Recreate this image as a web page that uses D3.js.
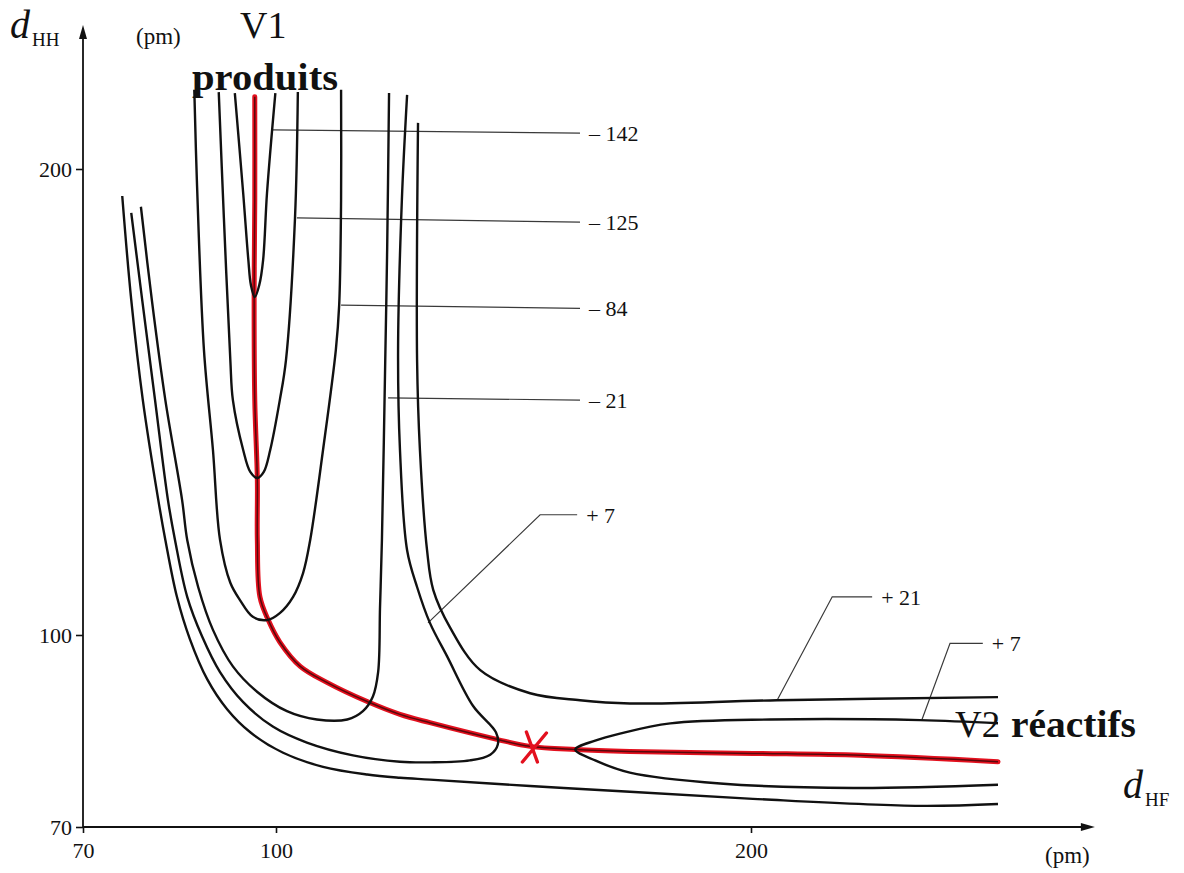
<!DOCTYPE html>
<html><head><meta charset="utf-8">
<script src="https://cdn.jsdelivr.net/npm/d3@7"></script>
<style>
body{margin:0;background:#fff}
svg{display:block}
text{font-family:"Liberation Serif","DejaVu Serif",serif;fill:#111}
</style>
</head><body>
<svg id="chart" width="1184" height="873"></svg>
<script>
// ---- data (pm) ----
const xTicks = [70, 100, 200];
const xTickLabels = ["70", "100", "200"];
const yTicks = [70, 100, 200];
const yTickLabels = ["70", "100", "200"];
const xAxisMax = 272.4, yAxisMax = 230.9;

// isoenergy contours (kJ/mol), points [dHF, dHH]
const cM142 = [[93.6,216.3],[94.9,194.8],[95.7,180.5],[96.1,175.1],[96.7,172.5],[97.4,175.1],[98.0,180.5],[98.6,194.8],[99.9,216.3]];
const cM125 = [[91.1,216.5],[91.9,189.5],[92.9,159.0],[93.3,150.4],[94.9,139.7],[96.0,135.0],[97.1,133.7],[98.1,135.0],[99.1,139.7],[100.8,150.4],[102.1,159.0],[104.0,189.5],[104.6,216.5]];
const cM84 = [[87.3,217.0],[87.7,197.6],[88.8,161.2],[90.2,139.7],[91.3,120.4],[92.9,111.2],[94.4,107.5],[96.4,103.9],[98.6,103.2],[100.8,104.7],[103.6,108.2],[105.7,113.3],[107.2,120.4],[109.9,139.7],[112.6,161.2],[113.3,170.8],[113.7,193.4],[113.7,217.0]];
const cM21 = [[79.0,191.9],[80.7,171.9],[82.8,150.4],[85.4,129.0],[86.2,120.4],[87.9,110.3],[90.2,101.1],[93.3,95.1],[97.1,91.1],[102.3,88.1],[108.6,86.8],[115.0,86.8],[118.3,88.1],[120.4,90.4],[121.5,94.2],[121.9,106.0],[122.3,120.4],[123.0,159.0],[123.4,182.6],[123.8,216.3]];
const cP7a = [[77.5,190.6],[79.2,171.9],[81.2,150.4],[83.2,129.0],[84.3,120.4],[86.2,108.2],[88.5,99.8],[91.3,94.2],[94.9,89.5],[99.5,85.7],[106.5,83.2],[116.2,81.2],[126.1,80.2],[132.4,80.1],[140.8,80.4],[145.1,81.3],[146.7,82.9],[146.3,84.8],[141.5,88.9],[136.0,96.7],[132.4,102.6],[129.7,110.3],[127.6,118.2],[126.1,139.7],[125.7,161.2],[126.5,193.4],[127.6,215.9]];
const cP7b = [[252.0,86.2],[235.6,86.7],[204.0,86.8],[183.0,86.2],[172.4,84.6],[167.2,83.5],[163.0,82.1],[167.2,80.4],[174.5,78.5],[193.5,76.8],[221.5,76.1],[252.0,76.6]];
const cP21a = [[129.9,209.9],[129.7,159.0],[130.3,139.7],[131.8,118.2],[133.1,109.7],[136.6,101.7],[143.0,94.5],[153.5,90.9],[164.0,89.8],[174.5,89.3],[205.5,89.8],[252.0,90.3]];
const cP21b = [[76.1,194.2],[77.5,171.9],[79.3,150.4],[81.7,129.0],[82.8,120.4],[84.6,108.2],[86.6,99.4],[89.3,93.1],[92.4,88.4],[96.0,84.8],[101.5,81.6],[109.9,79.4],[119.2,78.2],[126.1,77.7],[132.4,77.4],[153.5,76.4],[174.5,75.5],[200.4,74.4],[235.6,73.3],[252.0,73.6]];

// minimum energy path (red)
const mep = [[96.7,215.5],[96.7,193.4],[96.6,171.9],[96.7,150.4],[97.1,133.3],[97.1,120.4],[97.5,108.2],[98.8,103.2],[100.8,98.9],[105.1,95.1],[110.7,92.6],[119.2,89.6],[126.1,87.6],[132.4,86.3],[146.5,83.7],[153.5,82.6],[163.0,82.1],[174.5,81.8],[200.4,81.5],[223.0,81.2],[252.0,80.2]];
const saddle = [154.4, 82.5];

// contour labels and leader lines
const levelLabels = ["– 142", "– 125", "– 84", "– 21", "+ 7", "+ 21", "+ 7"];
const leaders = [
  [[99.5,208.4],[164.0,207.7]],
  [[104.4,189.5],[164.0,188.6]],
  [[113.7,170.8],[164.0,170.1]],
  [[123.6,150.9],[164.0,150.4]],
  [[132.0,102.6],[155.6,125.8],[163.4,125.8]],
  [[205.5,89.8],[217.1,108.2],[225.5,108.2]],
  [[236.0,86.8],[241.9,98.7],[248.8,98.7]]
];

// ---- drawing ----
const svg = d3.select("#chart");
const x = d3.scaleLinear().domain([70, 100, 200]).range([83, 276, 751]);
const y = d3.scaleLinear().domain([70, 100, 200]).range([827, 635, 169]);

const line = d3.line().x(d => x(d[0])).y(d => y(d[1])).curve(d3.curveCatmullRom.alpha(0.5));
const straight = d3.line().x(d => x(d[0])).y(d => y(d[1]));

// leaders
svg.append("g").selectAll("path").data(leaders).join("path")
  .attr("d", straight).attr("fill", "none").attr("stroke", "#3a3a3a").attr("stroke-width", 1.2);

// labels at leader ends
svg.append("g").selectAll("text").data(leaders).join("text")
  .attr("x", d => x(d[d.length - 1][0]) + 9)
  .attr("y", d => y(d[d.length - 1][1]) + 8)
  .attr("font-size", 22)
  .text((d, i) => levelLabels[i]);

// big texts (under the contours)
svg.append("text").attr("x", 955).attr("y", 737).attr("font-size", 37).text("V2");
svg.append("text").attr("x", 1011).attr("y", 737).attr("font-size", 38).attr("font-weight", "bold")
  .attr("textLength", 125).attr("lengthAdjust", "spacingAndGlyphs").text("réactifs");
svg.append("text").attr("x", 240).attr("y", 38).attr("font-size", 38).text("V1");
svg.append("text").attr("x", 192).attr("y", 90).attr("font-size", 37).attr("font-weight", "bold")
  .attr("textLength", 146).attr("lengthAdjust", "spacingAndGlyphs").text("produits");

// red path
svg.append("path").attr("d", line(mep)).attr("fill", "none")
  .attr("stroke", "#e3101e").attr("stroke-width", 5).attr("stroke-linecap", "round");
svg.append("path").attr("d", line(mep)).attr("fill", "none")
  .attr("stroke", "#2a0606").attr("stroke-width", 1.5).attr("opacity", 0.75);

// contours
const contours = [cM142, cM125, cM84, cM21, cP7a, cP7b, cP21a, cP21b];
svg.append("g").selectAll("path").data(contours).join("path")
  .attr("d", line).attr("fill", "none").attr("stroke", "#111").attr("stroke-width", 2.4)
  .attr("stroke-linejoin", "round");

// saddle point cross
const sx = x(saddle[0]), sy = y(saddle[1]);
svg.append("path")
  .attr("d", `M${sx-8},${sy-15}L${sx+3},${sy+15}M${sx+12},${sy-14}L${sx-12},${sy+15}`)
  .attr("stroke", "#e3101e").attr("stroke-width", 3.4).attr("fill", "none").attr("stroke-linecap", "round");

// axes
const gx = svg.append("g").attr("transform", `translate(0,${y(70)})`)
  .call(d3.axisBottom(x).tickValues(xTicks).tickFormat((d, i) => xTickLabels[i]).tickSize(6).tickPadding(9));
gx.select(".domain").remove();
gx.selectAll("line").attr("stroke", "#111").attr("stroke-width", 1.6);
gx.selectAll("text").attr("font-size", 22).attr("font-family", "Liberation Serif").attr("fill", "#111");

const gy = svg.append("g").attr("transform", `translate(${x(70)},0)`)
  .call(d3.axisLeft(y).tickValues(yTicks).tickFormat((d, i) => yTickLabels[i]).tickSize(7).tickPadding(4));
gy.select(".domain").remove();
gy.selectAll("line").attr("stroke", "#111").attr("stroke-width", 1.6);
gy.selectAll("text").attr("font-size", 22).attr("font-family", "Liberation Serif").attr("fill", "#111");

// axis lines with arrows
const x0 = x(70), y0 = y(70), xe = x(xAxisMax), ye = y(yAxisMax);
svg.append("path").attr("d", `M${x0},${y0}H${xe-10}`).attr("stroke", "#111").attr("stroke-width", 1.8);
svg.append("path").attr("d", `M${x0},${y0}V${ye+10}`).attr("stroke", "#111").attr("stroke-width", 1.8);
svg.append("path").attr("d", `M${xe},${y0}L${xe-14},${y0-4}L${xe-14},${y0+4}Z`).attr("fill", "#111");
svg.append("path").attr("d", `M${x0},${ye}L${x0-4},${ye+14}L${x0+4},${ye+14}Z`).attr("fill", "#111");

// axis titles
const tY = svg.append("text").attr("x", 10).attr("y", 38);
tY.append("tspan").attr("font-size", 40).attr("font-style", "italic").text("d");
tY.append("tspan").attr("font-size", 19).attr("dy", 8).attr("dx", 2).text("HH");
svg.append("text").attr("x", 136).attr("y", 44).attr("font-size", 23).text("(pm)");

const tX = svg.append("text").attr("x", 1123).attr("y", 798);
tX.append("tspan").attr("font-size", 40).attr("font-style", "italic").text("d");
tX.append("tspan").attr("font-size", 19).attr("dy", 8).attr("dx", 2).text("HF");
svg.append("text").attr("x", 1045).attr("y", 863).attr("font-size", 23).text("(pm)");
</script>
</body></html>
